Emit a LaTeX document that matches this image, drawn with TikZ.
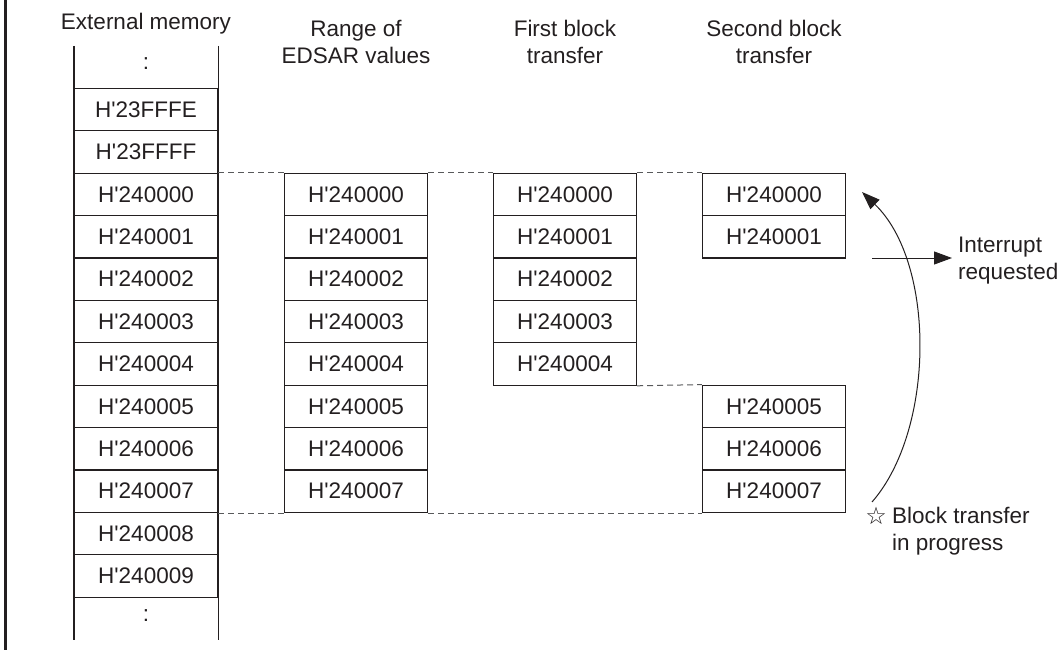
\documentclass[tikz,border=0pt]{standalone}
\usepackage{fontspec}
\setmainfont{Liberation Sans}
\newfontfamily\symfont{DejaVu Sans}
\usepackage{xcolor}
\usetikzlibrary{arrows.meta,positioning,calc}
\definecolor{ink}{HTML}{231F20}
\definecolor{dashgray}{HTML}{58595B}
\tikzset{
  cell/.style={draw=ink, line width=1.2pt, minimum width=143pt, minimum height=42.4pt, inner sep=0pt, text=ink},
  opencell/.style={minimum width=143pt, minimum height=42.4pt, inner sep=0pt, text=ink},
  headtext/.style={text=ink, align=center, inner sep=0pt},
  note/.style={text=ink, align=left, inner sep=0pt},
  guide/.style={draw=dashgray, line width=1pt, dash pattern=on 6pt off 4pt},
  arrow/.style={-{Triangle[length=18pt,width=13pt]}, draw=ink, line width=1pt}
}
\newcommand{\hq}{H\textquotesingle}

\begin{document}
\begin{tikzpicture}[x=1pt, y=-1pt, font=\fontsize{22.5}{27}\selectfont]
  \useasboundingbox (0,0) rectangle (1064,650);
  \draw[ink, line width=3pt] (5.5,0) -- (5.5,650);

  % column heads
  \node[headtext, anchor=base] (hmem) at (146,30) {External memory};
  \node[headtext, anchor=north] (hrng) at (356,20) {Range of\\EDSAR values};
  \node[headtext, anchor=north] (hfst) at (565,20) {First block\\transfer};
  \node[headtext, anchor=north] (hsnd) at (774,20) {Second block\\transfer};

  % external memory
  \node[opencell] (mem0) at (146,64) {:};
  \node[opencell] (mem13) at (146,{64+42.4*13}) {:};
  \foreach \r/\t in {1/23FFFE,2/23FFFF,3/240000,4/240001,5/240002,6/240003,7/240004,8/240005,9/240006,10/240007,11/240008,12/240009} {
    \node[cell] (mem\r) at (146,{67.2+42.4*\r}) {\hq\t};
  }
  \draw[ink, line width=1.2pt] (mem1.north west |- 0,46) -- (mem12.south west |- 0,639.6);
  \draw[ink, line width=1.2pt] (mem1.north east |- 0,46) -- (mem12.south east |- 0,639.6);

  % EDSAR range
  \foreach \r/\t in {3/240000,4/240001,5/240002,6/240003,7/240004,8/240005,9/240006,10/240007} {
    \node[cell] (rng\r) at (356,{67.2+42.4*\r}) {\hq\t};
  }

  % first block transfer
  \foreach \r/\t in {3/240000,4/240001,5/240002,6/240003,7/240004} {
    \node[cell] (fst\r) at (565,{67.2+42.4*\r}) {\hq\t};
  }

  % second block transfer
  \foreach \r/\t in {3/240000,4/240001,8/240005,9/240006,10/240007} {
    \node[cell] (snd\r) at (774,{67.2+42.4*\r}) {\hq\t};
  }

  % guide lines
  \draw[guide] (mem3.north east) -- (rng3.north west);
  \draw[guide] (rng3.north east) -- (fst3.north west);
  \draw[guide] (fst3.north east) -- (snd3.north west);
  \draw[guide] (fst7.south east) -- (snd8.north west);
  \draw[guide] (mem10.south east) -- (rng10.south west);
  \draw[guide] (rng10.south east) -- (snd10.south west);

  % interrupt
  \node[note, anchor=west] (irq) at (958,261) {Interrupt\\requested};
  \coordinate (irqfrom) at (872,258);
  \draw[arrow] (irqfrom) -- ([xshift=-6pt]irqfrom -| irq.west);

  % block transfer loop
  \node[note, anchor=north west] (busy) at (892,507) {Block transfer\\in progress};
  \node[note, anchor=base east, font=\symfont\fontsize{24}{24}\selectfont] (star) at (887,524) {☆};
  \coordinate (loopbot) at (872,502);
  \coordinate (looptop) at (862,192);
  \draw[arrow] (loopbot) .. controls (935,430) and (936,263) .. (looptop);
\end{tikzpicture}
\end{document}
